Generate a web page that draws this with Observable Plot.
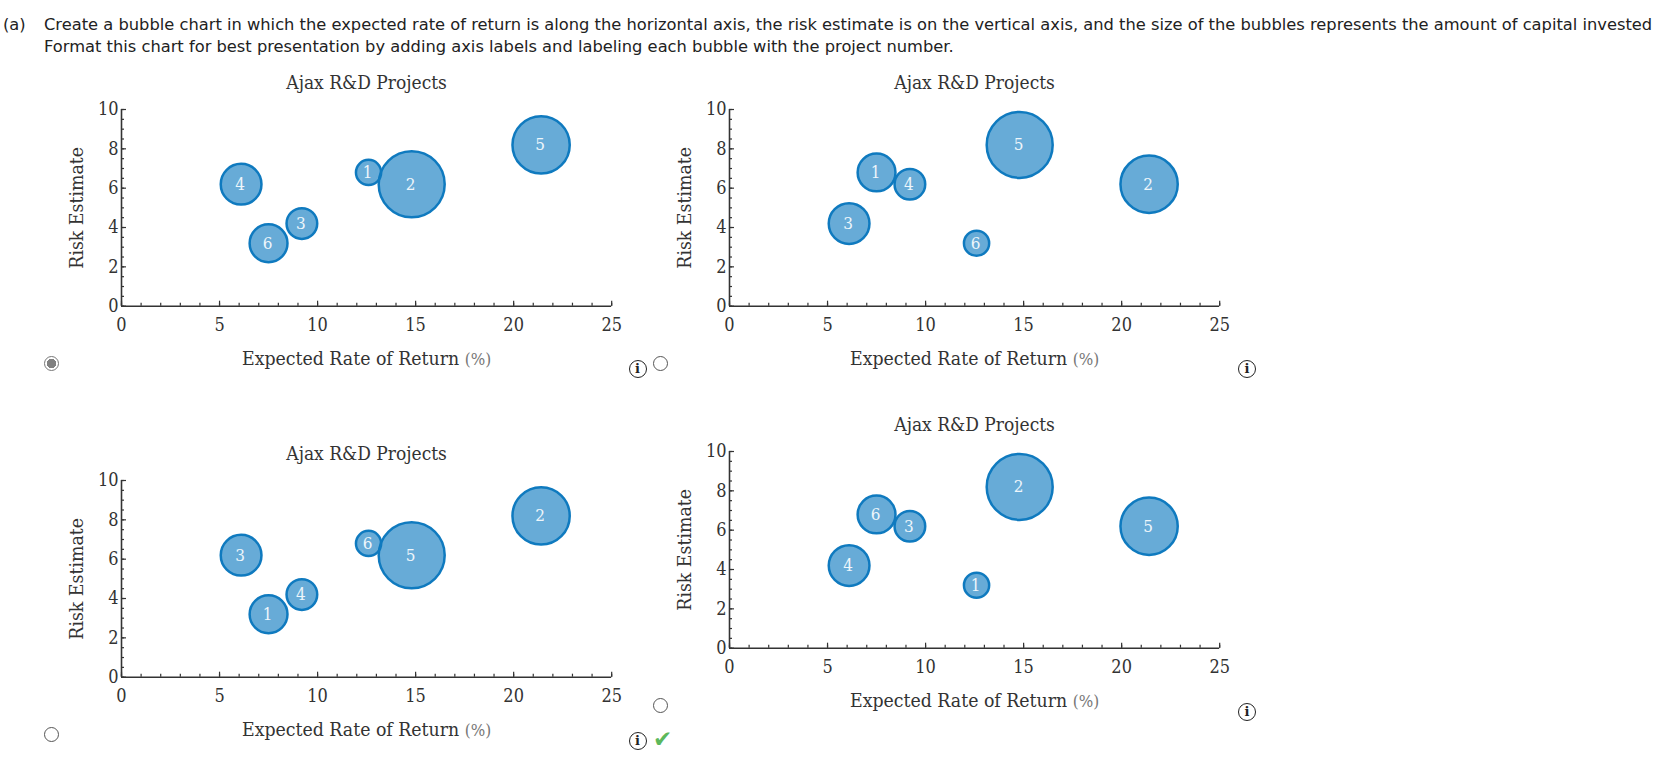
<!DOCTYPE html>
<html><head><meta charset="utf-8">
<script src="https://cdn.jsdelivr.net/npm/d3@7"></script>
<script src="https://cdn.jsdelivr.net/npm/@observablehq/plot@0.6"></script>
<style>
html,body{margin:0;padding:0;background:#fff;overflow:hidden}
body{position:relative;width:1657px;height:767px}
.q{position:absolute;font:16.3px "DejaVu Sans",sans-serif;color:#222;white-space:nowrap;line-height:22px}
.chart{position:absolute}
.chart svg{font-family:"DejaVu Serif Condensed","DejaVu Serif",serif;background:transparent;overflow:visible}
.radio{position:absolute;box-sizing:border-box;width:15px;height:15px;border:1.3px solid #555;border-radius:50%;background:#fff;z-index:2}
.radio.on{border-color:#777;background:radial-gradient(circle,#808080 0 4.6px,#fff 5px)}
.info{position:absolute;box-sizing:border-box;width:18px;height:18px;border:1.2px solid #222;border-radius:50%;font:bold 13px/16px "DejaVu Serif",serif;text-align:center;color:#222;z-index:2}
.check{position:absolute;z-index:2;color:#5cb85c;font:bold 23px/22px "DejaVu Sans",sans-serif}
</style></head><body>
<div class="q" style="left:3px;top:14px">(a)</div>
<div class="q" style="left:44px;top:14px">Create a bubble chart in which the expected rate of return is along the horizontal axis, the risk estimate is on the vertical axis, and the size of the bubbles represents the amount of capital invested</div>
<div class="q" style="left:44px;top:36px">Format this chart for best presentation by adding axis labels and labeling each bubble with the project number.</div>
<script>
const projectNumbers = [1, 2, 3, 4, 5, 6];
const rateOrderLeft = [12.6, 14.8, 9.2, 6.1, 21.4, 7.5];
const rateOrderRight = [7.5, 21.4, 6.1, 9.2, 14.8, 12.6];
const riskOrderTop = [6.8, 6.2, 4.2, 6.2, 8.2, 3.2];
const riskOrderBottom = [3.2, 8.2, 6.2, 4.2, 6.2, 6.8];
const capitalOrderA = [146, 1000, 216, 381, 753, 329];
const capitalOrderB = [329, 753, 381, 216, 1000, 146];
const xMajorTicks = [0, 5, 10, 15, 20, 25];
const xMinorTicks = d3.range(0, 26);
const yMajorTicks = [0, 2, 4, 6, 8, 10];
const yMinorTicks = d3.range(0, 10.5, 0.5);

const titleText = "Ajax R&D Projects";
const xLabel = "Expected Rate of Return (%)";
const yLabel = "Risk Estimate";

const ink = "#333";
const panels = [
  {left: 40.8, top: 58.8, xs: rateOrderLeft, ys: riskOrderTop, caps: capitalOrderA},
  {left: 649.4, top: 58.8, xs: rateOrderRight, ys: riskOrderTop, caps: capitalOrderB},
  {left: 40.8, top: 429.8, xs: rateOrderRight, ys: riskOrderBottom, caps: capitalOrderB},
  {left: 649.4, top: 401.2, xs: rateOrderLeft, ys: riskOrderBottom, caps: capitalOrderA}
];

for (const p of panels) {
  const rows = projectNumbers.map((n, i) => ({n, x: p.xs[i], y: p.ys[i], c: p.caps[i]}));
  const svg = Plot.plot({
    width: 595.2, height: 321.7,
    marginLeft: 80, marginRight: 25, marginTop: 50, marginBottom: 75,
    x: {domain: [0, 25]},
    y: {domain: [0, 10]},
    r: {type: "sqrt", domain: [0, 1000], range: [0, 33]},
    style: {fontSize: "16px", color: ink, background: "transparent"},
    marks: [
      Plot.axisX(xMinorTicks, {tickSize: -3, stroke: ink, strokeWidth: 1.2, text: null, label: null}),
      Plot.axisX(xMajorTicks, {tickSize: -5, tickPadding: 17, stroke: ink, strokeWidth: 1.2, fontSize: 18, fill: ink, label: xLabel, labelAnchor: "center", labelArrow: "none", labelOffset: 59}),
      Plot.axisY(yMinorTicks, {tickSize: -3, stroke: ink, strokeWidth: 1.2, text: null, label: null}),
      Plot.axisY(yMajorTicks, {tickSize: -5, tickPadding: 8, stroke: ink, strokeWidth: 1.2, fontSize: 18, fill: ink, label: yLabel, labelAnchor: "center", labelArrow: "none", labelOffset: 52}),
      Plot.ruleY([0], {stroke: ink, strokeWidth: 1.6}),
      Plot.ruleX([0], {stroke: ink, strokeWidth: 1.6}),
      Plot.dot(rows, {x: "x", y: "y", r: "c", fill: "#0f7abf", fillOpacity: 0.63, stroke: "#0f7abf", strokeWidth: 2.5}),
      Plot.text(rows, {x: "x", y: "y", text: "n", fill: "#eef6fb", fontSize: 17, dx: -1}),
      Plot.text([titleText], {frameAnchor: "top", dy: -33.5, fontSize: 19, fill: ink})
    ]
  });
  for (const t of svg.querySelectorAll("text")) {
    if (t.textContent.trim() === xLabel || t.textContent.trim() === yLabel) t.setAttribute("font-size", 19.3);
    if (t.textContent.trim() === xLabel) {
      const base = t.querySelector("tspan") || t;
      base.innerHTML = 'Expected Rate of Return <tspan fill="#777" font-size="17">(%)</tspan>';
    }
  }
  const wrap = document.createElement("div");
  wrap.className = "chart";
  wrap.style.left = p.left + "px";
  wrap.style.top = p.top + "px";
  wrap.appendChild(svg);
  document.body.appendChild(wrap);
}

const radios = [[44, 356, true], [653, 356, false], [44, 727, false], [653, 698, false]];
for (const [l, t, on] of radios) {
  const d = document.createElement("div");
  d.className = "radio" + (on ? " on" : "");
  d.style.left = l + "px"; d.style.top = t + "px";
  document.body.appendChild(d);
}
const infos = [[628.5, 360], [1238, 360], [628.5, 731.5], [1238, 702.5]];
for (const [l, t] of infos) {
  const d = document.createElement("div");
  d.className = "info"; d.textContent = "i";
  d.style.left = l + "px"; d.style.top = t + "px";
  document.body.appendChild(d);
}
const c = document.createElement("div");
c.className = "check"; c.textContent = "✔";
c.style.left = "653px"; c.style.top = "728px";
document.body.appendChild(c);
</script>
</body></html>
